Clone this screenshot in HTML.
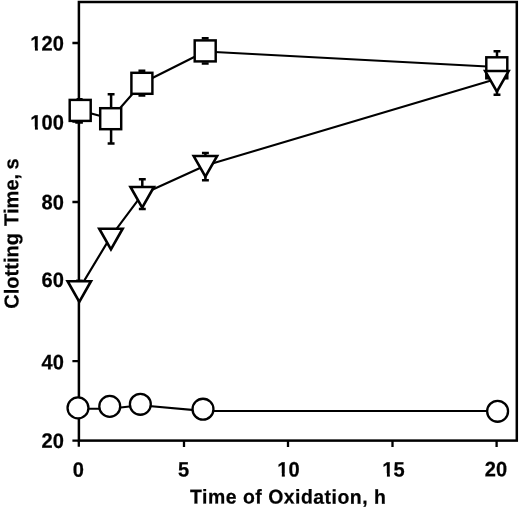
<!DOCTYPE html>
<html><head><meta charset="utf-8">
<title>Clotting Time vs Time of Oxidation</title>
<style>
html,body{margin:0;padding:0;background:#fff;}
body{width:520px;height:508px;overflow:hidden;}
svg{display:block;}
text{text-rendering:geometricPrecision;font-family:"Liberation Sans",sans-serif;font-weight:bold;fill:#000;}
</style></head><body>
<svg width="520" height="508" viewBox="0 0 520 508">
<rect width="520" height="508" fill="#fff"/>
<!-- frame -->
<rect x="78.9" y="2" width="437.9" height="438.6" fill="none" stroke="#000" stroke-width="2.5"/>
<!-- ticks -->
<g stroke="#000" stroke-width="2.3">
<path d="M72.4,43H78M72.4,121.5H78M72.4,202H78M72.4,281.6H78M72.4,361.1H78M72.4,440.6H78"/>
<path d="M78.8,440V446.8M184,440V447M288,440V447M392.5,440V447M496.6,440V447"/>
</g>
<!-- tick labels -->
<g style="opacity:.999">
<g font-size="20.6" stroke="#000" stroke-width="0.25">
<g transform="translate(63.8,50.6) rotate(0.1) scale(0.973,1.01)"><text text-anchor="end">120</text><g stroke="none"><rect x="-33.97" y="-3" width="4.29" height="4.7" fill="#fff"/><rect x="-26.62" y="-3" width="3.73" height="4.7" fill="#fff"/></g></g>
<g transform="translate(63.8,129.6) rotate(0.1) scale(0.973,1.01)"><text text-anchor="end">100</text><g stroke="none"><rect x="-33.97" y="-3" width="4.29" height="4.7" fill="#fff"/><rect x="-26.62" y="-3" width="3.73" height="4.7" fill="#fff"/></g></g>
<g transform="translate(63.8,209.4) rotate(0.1) scale(0.973,1.01)"><text text-anchor="end">80</text></g>
<g transform="translate(63.8,287) rotate(0.1) scale(0.973,1.01)"><text text-anchor="end">60</text></g>
<g transform="translate(63.8,369.2) rotate(0.1) scale(0.973,1.01)"><text text-anchor="end">40</text></g>
<g transform="translate(63.8,447.9) rotate(0.1) scale(0.973,1.01)"><text text-anchor="end">20</text></g>
<g transform="translate(78.3,476.7) rotate(0.1) scale(0.973,1.01)"><text text-anchor="middle">0</text></g>
<g transform="translate(183.7,476.6) rotate(0.1) scale(0.973,1.01)"><text text-anchor="middle">5</text></g>
<g transform="translate(288.4,476.4) rotate(0.1) scale(0.973,1.01)"><text text-anchor="middle">10</text><g stroke="none"><rect x="-11.06" y="-3" width="4.29" height="4.7" fill="#fff"/><rect x="-3.7" y="-3" width="3.73" height="4.7" fill="#fff"/></g></g>
<g transform="translate(393.5,476.4) rotate(0.1) scale(0.973,1.01)"><text text-anchor="middle">15</text><g stroke="none"><rect x="-11.06" y="-3" width="4.29" height="4.7" fill="#fff"/><rect x="-3.7" y="-3" width="3.73" height="4.7" fill="#fff"/></g></g>
<g transform="translate(495.9,476.3) rotate(0.1) scale(0.973,1.01)"><text text-anchor="middle">20</text></g>
</g>
<text transform="translate(190.0,503.5) rotate(0.06) scale(0.975,1)" font-size="19.9" letter-spacing="0.53" stroke="#000" stroke-width="0.25">Time of Oxidation, h</text>
<text transform="translate(18.3,233.6) rotate(-90.08)" font-size="20.1" text-anchor="middle" stroke="#000" stroke-width="0.2">Clotting <tspan dx="1.4">Time,</tspan> <tspan dx="-1.3">s</tspan></text>
</g>

<!-- series lines -->
<g fill="none" stroke="#000" stroke-width="2.1" stroke-linejoin="round">
<polyline points="80.2,110.4 110.7,118.7 141.9,83.3 205.2,51.5 496.8,67"/>
<polyline points="79.4,288.6 111.1,236.1 142.3,194.3 205.5,165.5 497,78.7"/>
<polyline points="78,408.8 109.7,408.7 140.4,405.3 203,410.9 497.6,411"/>
</g>
<!-- error bars -->
<g fill="none" stroke="#000" stroke-width="2.5">
<path d="M76.6,99.3H82.6M75.3,122.4H82.9"/>
<path d="M111.1,94.3V143.5M107.65,94.3H114.55M107.65,143.5H114.55"/>
<path d="M138.45,70.8H145.35M138.45,95.5H145.35"/>
<path d="M201.75,38.2H208.65M201.75,63.4H208.65"/>
<path d="M497,51.2V58M493.55,51.2H500.45"/>
<path d="M142.3,179.3V208.9M138.85,179.3H145.75M138.85,208.9H145.75"/>
<path d="M205.4,153.1V180.2M201.95,153.1H208.85M201.95,180.2H208.85"/>
<path d="M497,72V94.7M493.55,94.7H500.45"/>
<path d="M76.1,280.8H82.8"/>
</g>
<!-- squares -->
<g fill="#fff" stroke="#000" stroke-width="2.45">
<rect x="69.7" y="99.9" width="21" height="21"/>
<rect x="100.2" y="108.2" width="21" height="21"/>
<rect x="131.4" y="72.8" width="21" height="21"/>
<rect x="194.7" y="40.4" width="21" height="21"/>
<rect x="486.3" y="57.3" width="21" height="21"/>
</g>
<!-- triangles -->
<g fill="#fff" stroke="#000" stroke-width="2.63" stroke-linejoin="miter" stroke-miterlimit="10">
<path d="M67.6,281.25H91L79.3,301.85Z"/>
<path d="M99.25,228.7H122.65L110.95,249.3Z"/>
<path d="M130.5,186.95H153.9L142.2,207.55Z"/>
<path d="M193.7,156.05H217.1L205.4,176.65Z"/>
<path d="M485.2,71.05H508.6L496.9,91.65Z"/>
</g>
<!-- circles -->
<g fill="#fff" stroke="#000" stroke-width="2.3">
<circle cx="78" cy="407.9" r="10.45"/>
<circle cx="109.75" cy="406.4" r="10.45"/>
<circle cx="140.35" cy="404.3" r="10.45"/>
<circle cx="203" cy="409.2" r="10.45"/>
<circle cx="497.6" cy="411.3" r="10.45"/>
</g>
</svg>
</body></html>
